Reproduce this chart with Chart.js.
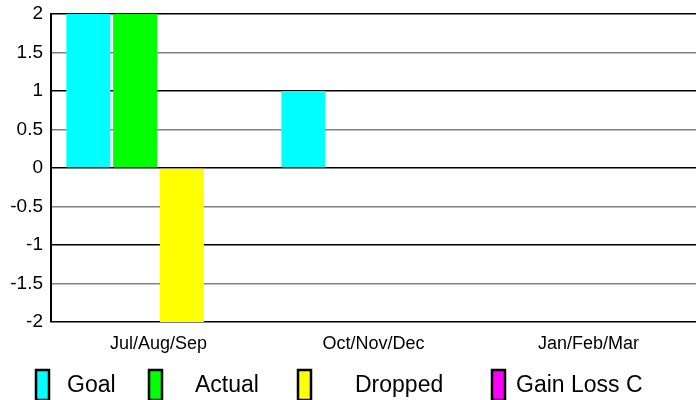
<!DOCTYPE html>
<html>
<head>
<meta charset="utf-8">
<script src="https://cdn.jsdelivr.net/npm/chart.js@4"></script>
<style>
    html, body { margin: 0; padding: 0; background: #fff; }
    #wrap { width: 696px; height: 400px; position: relative; }
</style>
</head>
<body>
<div id="wrap"><canvas id="grafico"></canvas></div>
<script>
// Datos del gráfico
const trimestres = ['Jul/Aug/Sep', 'Oct/Nov/Dec', 'Jan/Feb/Mar'];
const series = ['Goal', 'Actual', 'Dropped', 'Gain Loss C'];
const goal = [2, 1, 0];
const actual = [2, 0, 0];
const dropped = [-2, 0, 0];
const gainLoss = [0, 0, 0];
const colores = ['#00ffff', '#00ff00', '#ffff00', '#ff00ff'];
const ejeY = { min: -2, max: 2, paso: 0.5 };

const fuente = '"Liberation Sans", Arial, sans-serif';

// Leyenda dibujada a mano (posiciones como en la original)
const leyendaX = [[36, 67], [149, 195], [298, 355], [492, 516]];
const leyendaPlugin = {
    id: 'leyenda',
    afterDraw(chart) {
        const ctx = chart.ctx;
        ctx.save();
        ctx.font = '23px ' + fuente;
        ctx.textBaseline = 'middle';
        chart.data.datasets.forEach((ds, i) => {
            const [bx, tx] = leyendaX[i];
            ctx.fillStyle = ds.backgroundColor;
            ctx.fillRect(bx, 370, 13, 30);
            ctx.lineWidth = 2.5;
            ctx.strokeStyle = '#000';
            ctx.strokeRect(bx, 370, 13, 30);
            ctx.fillStyle = '#000';
            ctx.fillText(ds.label, tx, 386);
        });
        ctx.restore();
    }
};

const datos = [goal, actual, dropped, gainLoss];

new Chart(document.getElementById('grafico'), {
    type: 'bar',
    data: {
        labels: trimestres,
        datasets: series.map((nombre, i) => ({
            label: nombre,
            data: datos[i],
            backgroundColor: colores[i],
            borderWidth: 0,
            barPercentage: 0.94,
            categoryPercentage: 0.87
        }))
    },
    options: {
        responsive: true,
        maintainAspectRatio: false,
        animation: false,
        layout: { padding: { top: 14, right: 0, bottom: 0, left: 0 } },
        plugins: {
            legend: { display: false },
            tooltip: { enabled: false }
        },
        scales: {
            x: {
                grid: { display: false },
                border: { display: false },
                ticks: {
                    color: '#000',
                    padding: 3,
                    maxRotation: 0,
                    font: { family: fuente, size: 18 }
                },
                afterFit(scale) { scale.height = 78; }
            },
            y: {
                min: ejeY.min,
                max: ejeY.max,
                border: { display: true, color: '#000', width: 2 },
                grid: {
                    drawTicks: false,
                    lineWidth: 1.6,
                    color: (c) => (c.tick && Number.isInteger(c.tick.value)) ? '#000' : '#808080'
                },
                ticks: {
                    stepSize: ejeY.paso,
                    color: '#000',
                    padding: 8,
                    font: { family: fuente, size: 19, lineHeight: 0.5 },
                    callback: (v) => String(v)
                },
                afterFit(scale) { scale.width = 51; }
            }
        }
    },
    plugins: [leyendaPlugin]
});
</script>
</body>
</html>
